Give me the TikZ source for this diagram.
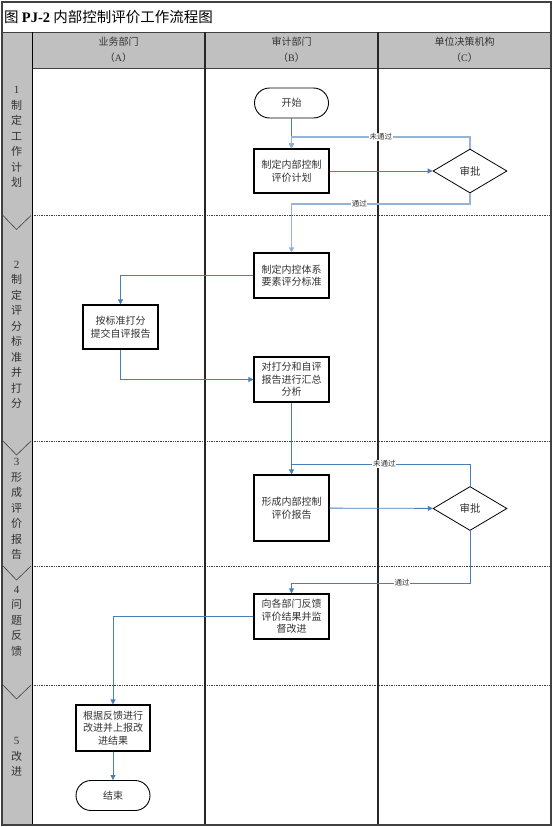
\documentclass[tikz,border=0pt]{standalone}
\usepackage{fontspec}
\setmainfont{Liberation Serif}
\newfontfamily\cjk{Noto Sans CJK SC}
\usetikzlibrary{shapes.geometric,arrows.meta,calc}
\definecolor{lanegray}{HTML}{C0C0C0}
\definecolor{fblue}{HTML}{4A7EBB}
\definecolor{lblue}{HTML}{95B3D7}
\definecolor{txt}{HTML}{333333}
\definecolor{framec}{HTML}{404040}
\begin{document}
\begin{tikzpicture}[x=1pt,y=-1pt,
  procbox/.style={draw=black,line width=1.1pt,fill=white,minimum width=75pt,minimum height=45pt,align=center,inner sep=1pt,font=\cjk\fontsize{10}{12.5}\selectfont,text=txt},
  term/.style={draw=black,line width=0.9pt,fill=white,rounded corners=15pt,minimum width=74pt,minimum height=30pt,inner sep=0pt,font=\cjk\fontsize{10}{12}\selectfont,text=txt},
  decide/.style={draw=black,line width=0.8pt,fill=white,diamond,aspect=1.68,minimum width=74pt,minimum height=44pt,inner sep=0pt,font=\cjk\fontsize{10.5}{12}\selectfont,text=txt},
  lbl/.style={fill=white,inner sep=0.6pt,font=\cjk\fontsize{7.5}{9}\selectfont,text=txt},
  phase/.style={align=center,inner sep=0pt,font=\cjk\fontsize{11}{15.5}\selectfont,text=txt},
  header/.style={align=center,inner sep=0pt,font=\cjk\fontsize{10}{16}\selectfont,text=txt},
  fl/.style={draw=fblue,line width=0.8pt,-{Triangle[length=5pt,width=5pt]}},
  flnotip/.style={draw=fblue,line width=0.8pt},
  lfl/.style={draw=lblue,line width=1.3pt,-{Triangle[length=5pt,width=5pt,fill=fblue]}},
  sepline/.style={draw=framec,line width=0.7pt,densely dotted},
  chev/.style={draw=framec,line width=0.6pt},
  lanesep/.style={draw=black!85,line width=1.8pt}
]
\useasboundingbox (0,0) rectangle (553,827);
% background fills
\fill[white] (2,2) rectangle (551,825);
\fill[lanegray] (32,32) rectangle (551,68);
\fill[lanegray] (2,32) rectangle (32,825);
% phase separators
\foreach \yy in {215.5,441,566,685}{
  \draw[sepline] (32,\yy) -- (551,\yy);
  \draw[chev] (3,\yy) -- (16.5,\yy+14) -- (31,\yy);
}
% frame lines
\draw[framec,line width=0.9pt] (2,32) -- (551,32);
\draw[framec,line width=0.9pt] (32,68) -- (551,68);
\draw[black,line width=1pt] (32,32) -- (32,825);
\draw[lanesep] (205,32) -- (205,825);
\draw[lanesep] (378,32) -- (378,825);
\draw[framec,line width=1.2pt] (2,2) rectangle (551,825);
% title
\node[anchor=west,inner sep=0pt,font=\cjk\fontsize{14.5}{16}\selectfont] (title) at (4,17) {图 {\rmfamily\bfseries PJ-2} 内部控制评价工作流程图};
% headers
\node[header] (hA) at (118.5,49.5) {业务部门\\（{\rmfamily A}）};
\node[header] (hB) at (291.5,49.5) {审计部门\\（{\rmfamily B}）};
\node[header] (hC) at (464.5,49.5) {单位决策机构\\（{\rmfamily C}）};
% phase labels
\node[phase] (ph1) at (16.5,137) {{\rmfamily 1}\\制\\定\\工\\作\\计\\划};
\node[phase] (ph2) at (16.5,335) {{\rmfamily 2}\\制\\定\\评\\分\\标\\准\\并\\打\\分};
\node[phase] (ph3) at (16.5,509) {{\rmfamily 3}\\形\\成\\评\\价\\报\\告};
\node[phase] (ph4) at (16.5,621) {{\rmfamily 4}\\问\\题\\反\\馈};
\node[phase] (ph5) at (16.5,757) {{\rmfamily 5}\\改\\进};
% flow nodes
\node[term] (start) at (291.5,103) {开始};
\node[procbox,minimum height=44pt] (p1) at (291.5,171) {制定内部控制\\评价计划};
\node[decide] (d1) at (470,171) {审批};
\node[procbox] (p2) at (291.5,275.5) {制定内控体系\\要素评分标准};
\node[procbox,minimum height=44pt] (p3) at (120.5,327) {按标准打分\\提交自评报告};
\node[procbox] (p4) at (291.5,379.5) {对打分和自评\\报告进行汇总\\分析};
\node[procbox,minimum height=66pt] (p5) at (291.5,508) {形成内部控制\\评价报告};
\node[decide] (d2) at (470,508.5) {审批};
\node[procbox] (p6) at (291.5,616.5) {向各部门反馈\\评价结果并监\\督改进};
\node[procbox,minimum width=74pt,minimum height=46pt] (p7) at (113,728) {根据反馈进行\\改进并上报改\\进结果};
\node[term] (end) at (113,795.5) {结束};
% helper coordinates
\coordinate (c1) at (291.5,137);
\coordinate (c2) at (291.5,204);
\coordinate (c3) at (291.5,464);
\coordinate (c4) at (291.5,583);
% connectors
\draw[fl] (start) -- (p1);
\draw[fl] (p1) -- (d1);
\draw[lfl] (d1.north) |- node[lbl,pos=0.75]{未通过} (c1) -- (p1.north);
\draw[lfl] (d1.south) |- node[lbl,pos=0.81]{通过} (c2) -- (p2.north);
\draw[fl] (p2.west) -| (p3.north);
\draw[fl] (p3.south) |- (p4.west);
\draw[fl] (p4.south) -- (p5.north);
\draw[flnotip] (d2.north) |- node[lbl,pos=0.74]{未通过} (c3);
\draw[fl] (p5) -- (d2);
\draw[fl] (d2.south) |- node[lbl,pos=0.69]{通过} (c4) -- (p6.north);
\draw[fl] (p6.west) -| (p7.north);
\draw[fl] (p7) -- (end);
\end{tikzpicture}
\end{document}
